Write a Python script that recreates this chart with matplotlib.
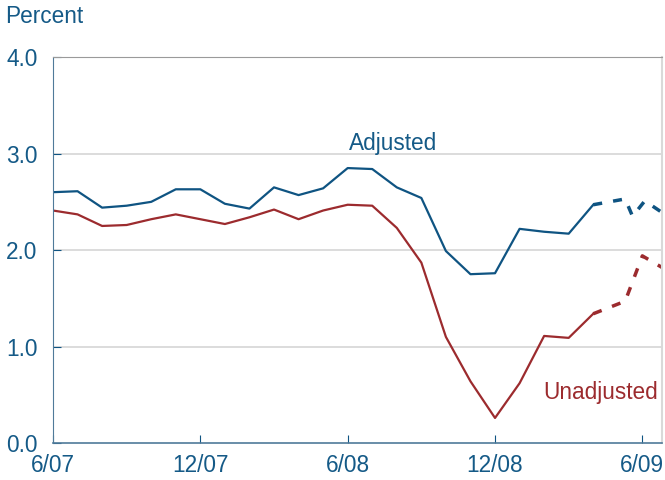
"""Adjusted vs unadjusted rate, 6/07 to mid 2009, monthly with dashed latest estimates."""

import matplotlib.pyplot as plt

plt.rcParams["font.family"] = ["Liberation Sans", "DejaVu Sans"]

BLUE = "#0f5482"
RED = "#9c2b2e"
TEXT = "#155a87"
FS = 16.3

# months since 6/07
months = list(range(23))
adjusted = [
    2.60, 2.61, 2.44, 2.46, 2.50, 2.63, 2.63, 2.48, 2.43, 2.65, 2.57, 2.64,
    2.85, 2.84, 2.65, 2.54, 1.99, 1.75, 1.76, 2.22, 2.19, 2.17, 2.47,
]
unadjusted = [
    2.41, 2.37, 2.25, 2.26, 2.32, 2.37, 2.32, 2.27, 2.34, 2.42, 2.32, 2.41,
    2.47, 2.46, 2.23, 1.87, 1.10, 0.64, 0.26, 0.62, 1.11, 1.09, 1.34,
]

# dashed tail (preliminary readings)
adj_tail_x = [22, 23.3, 23.6, 24.1, 24.8]
adj_tail_y = [2.47, 2.53, 2.35, 2.51, 2.39]
unadj_tail_x = [22, 23.3, 24.0, 24.8]
unadj_tail_y = [1.34, 1.47, 1.94, 1.82]

tick_pos = [0, 6, 12, 18, 24]
tick_labels = ["6/07", "12/07", "6/08", "12/08", "6/09"]

fig = plt.figure(figsize=(6.65, 4.8), dpi=100)
ax = fig.add_axes([0.0797, 0.077, 0.9158, 0.804])

ax.plot(months, adjusted, color=BLUE, lw=1.6)
ax.plot(months, unadjusted, color=RED, lw=1.6)
ax.plot(adj_tail_x, adj_tail_y, color=BLUE, lw=2.5, dashes=(2.6, 3.2))
ax.plot(unadj_tail_x, unadj_tail_y, color=RED, lw=2.5, dashes=(2.6, 3.2))

ax.set_xlim(0, 24.8)
ax.set_ylim(0, 4)
ax.set_yticks([0, 1, 2, 3, 4])
ax.set_yticklabels(["0.0", "1.0", "2.0", "3.0", "4.0"])
ax.set_xticks(tick_pos)
ax.set_xticklabels(tick_labels)
ax.tick_params(axis="both", direction="in", colors=BLUE, labelcolor=TEXT,
               labelsize=FS, length=6, width=0.8)
ax.tick_params(axis="y", pad=11)
ax.tick_params(axis="x", pad=8)

for y in [1, 2, 3]:
    ax.axhline(y, color="#d9d9d9", lw=1.3, zorder=0)

ax.spines["left"].set_color("#4f7a99")
ax.spines["bottom"].set_color("#4f7a99")
ax.spines["bottom"].set_linewidth(1.2)
ax.spines["top"].set_color("#9a9a9a")
ax.spines["right"].set_color("#d9d9d9")
ax.spines["right"].set_linewidth(1.5)

ax.text(12.05, 3.1, "Adjusted", color=TEXT, fontsize=FS, ha="left", va="center")
ax.text(19.95, 0.52, "Unadjusted", color=RED, fontsize=FS, ha="left", va="center")
fig.text(0.008, 0.965, "Percent", color=TEXT, fontsize=FS, ha="left", va="center")

fig.savefig("out.png", dpi=100)
